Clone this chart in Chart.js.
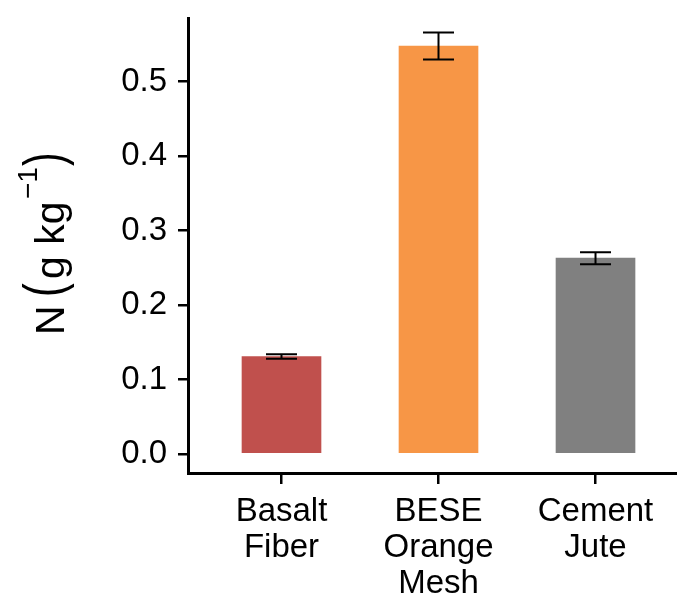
<!DOCTYPE html>
<html>
<head>
<meta charset="utf-8">
<script src="https://cdn.jsdelivr.net/npm/chart.js@4"></script>
<style>
  html, body { margin: 0; padding: 0; background: #fff; }
  #wrap { width: 677px; height: 596px; }
</style>
</head>
<body>
<div id="wrap"><canvas id="myChart" width="677" height="596"></canvas></div>
<script>
// data
var categories = [["Basalt", "Fiber"], ["BESE", "Orange", "Mesh"], ["Cement", "Jute"]];
var values = [0.131, 0.548, 0.263];
var errors = [0.003, 0.018, 0.008];
var barColors = ["#C0504D", "#F79646", "#808080"];
var yTicks = [0, 0.1, 0.2, 0.3, 0.4, 0.5];

var FONT = "'Liberation Sans', Arial, sans-serif";

// error bars, drawn through the scales
var errorBars = {
  id: "errorBars",
  afterDatasetsDraw(chart) {
    var ctx = chart.ctx;
    var xs = chart.scales.x, ys = chart.scales.y;
    ctx.save();
    ctx.strokeStyle = "#000";
    ctx.lineWidth = 2;
    values.forEach((v, i) => {
      var x = xs.getPixelForValue(i + 1);
      var hi = ys.getPixelForValue(v + errors[i]);
      var lo = ys.getPixelForValue(v - errors[i]);
      ctx.beginPath();
      ctx.moveTo(x, hi); ctx.lineTo(x, lo);
      ctx.moveTo(x - 15.5, hi); ctx.lineTo(x + 15.5, hi);
      ctx.moveTo(x - 15.5, lo); ctx.lineTo(x + 15.5, lo);
      ctx.stroke();
    });
    ctx.restore();
  }
};

// y axis title: N (g kg^-1) with tall brackets
var yTitle = {
  id: "yTitle",
  afterDraw(chart) {
    var ctx = chart.ctx;
    ctx.save();
    ctx.translate(64, 335);
    ctx.rotate(-Math.PI / 2);
    ctx.fillStyle = "#000";
    ctx.textBaseline = "alphabetic";
    ctx.textAlign = "left";
    function put(txt, size, x, y, sy) {
      ctx.save();
      ctx.font = size + "px " + FONT;
      ctx.translate(x, y);
      ctx.scale(1, sy || 1);
      ctx.fillText(txt, 0, 0);
      ctx.restore();
    }
    put("N", 41, 0, 0);
    put("(", 41, 38, -2, 1.35);
    put("g kg", 41, 56, 0);
    put("\u22121", 28, 136, -27);
    put(")", 41, 169, -2, 1.35);
    ctx.restore();
  }
};

new Chart(document.getElementById("myChart"), {
  type: "bar",
  data: {
    datasets: [{
      data: values.map((v, i) => ({ x: i + 1, y: v })),
      backgroundColor: barColors,
      barThickness: 79,
      borderWidth: 0
    }]
  },
  options: {
    responsive: false,
    animation: false,
    layout: { padding: { top: 18, right: 0, left: 0, bottom: 0 } },
    plugins: { legend: { display: false }, tooltip: { enabled: false } },
    scales: {
      x: {
        type: "linear",
        offset: false,
        min: 0.4045,
        max: 3.519,
        afterBuildTicks: s => { s.ticks = [1, 2, 3].map(v => ({ value: v })); },
        afterFit: s => { s.height = 123; s.paddingLeft = 0; s.paddingRight = 0; },
        border: { display: true, color: "#000", width: 3 },
        grid: { display: true, offset: false, drawOnChartArea: false, drawTicks: true, tickLength: 11, color: "#000", lineWidth: 2.5 },
        ticks: {
          color: "#000",
          padding: 10,
          maxRotation: 0,
          autoSkip: false,
          font: { family: FONT, size: 33, lineHeight: 1.09 },
          callback: v => categories[v - 1]
        }
      },
      y: {
        min: -0.0255,
        max: 0.5856,
        afterBuildTicks: s => { s.ticks = yTicks.map(v => ({ value: v })); },
        afterFit: s => { s.width = 188; s.paddingTop = 0; s.paddingBottom = 0; },
        border: { display: true, color: "#000", width: 3 },
        grid: { display: true, drawOnChartArea: false, drawTicks: true, tickLength: 10, color: "#000", lineWidth: 2.5 },
        ticks: {
          color: "#000",
          padding: 11,
          font: { family: FONT, size: 33 },
          callback: v => v.toFixed(1)
        }
      }
    }
  },
  plugins: [errorBars, yTitle]
});
</script>
</body>
</html>
